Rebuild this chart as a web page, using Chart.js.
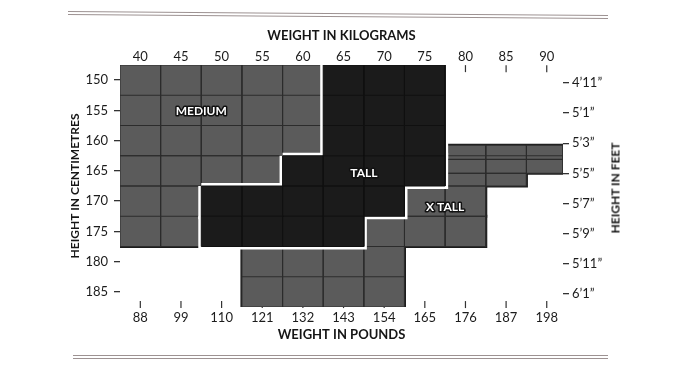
<!DOCTYPE html>
<html lang="en">
<head>
  <meta charset="UTF-8" />
  <title>Size chart</title>
  <script src="https://cdn.jsdelivr.net/npm/chart.js"></script>
  <style>
    body { margin: 0; background: #fff; }
    #wrap { position: relative; width: 699px; height: 368px; }
    canvas { position: absolute; left: 0; top: 0; }
    .rule {
      position: absolute; height: 2px;
      border-top: 1px solid #9d9292; border-bottom: 1px solid #9d9292;
    }
    #feetTitle {
      position: absolute; left: 615px; top: 188px;
      transform: translate(-50%, -50%) rotate(-90deg);
      font: bold 12px Lato; color: #151515; white-space: nowrap;
    }
  </style>
</head>
<body>
  <div id="wrap">
    <div class="rule" style="left:68px; top:13px; width:540px; transform:rotate(0.4deg)"></div>
    <canvas id="chart" width="699" height="368"></canvas>
    <div id="feetTitle">HEIGHT IN FEET</div>
    <div class="rule" style="left:73px; top:355px; width:535px"></div>
  </div>

  <script>
    // axis ticks
    const kgTicks = [40, 45, 50, 55, 60, 65, 70, 75, 80, 85, 90];
    const lbTicks = [88, 99, 110, 121, 132, 143, 154, 165, 176, 187, 198];
    const cmTicks = [150, 155, 160, 165, 170, 175, 180, 185];
    const feetTicks = [59, 61, 63, 65, 67, 69, 71, 73]; // inches, 4'11" .. 6'1"

    // size areas as blocks: [top cm, bottom cm, left kg, right kg]
    const mediumBlocks = [
      [147.5, 162.5, 37.5, 62.5],
      [162.5, 167.5, 37.5, 57.5],
      [167.5, 177.5, 37.5, 47.5]
    ];
    const tallBlocks = [
      [147.5, 162.5, 62.5, 77.5],
      [162.5, 167.5, 57.5, 77.5],
      [167.5, 172.5, 47.5, 72.5],
      [172.5, 177.5, 47.5, 67.5]
    ];
    const xTallBlocks = [
      [160.75, 163.1, 77.5, 92],
      [163.1, 165.4, 77.5, 92],
      [165.4, 167.5, 77.5, 87.5],
      [167.5, 172.5, 72.5, 82.5],
      [172.5, 177.5, 67.5, 82.5],
      [177.5, 187.5, 52.5, 72.5]
    ];

    const sizeNames = ['MEDIUM', 'TALL', 'X TALL'];
    const nameKg = [47.5, 67.5, 77.5];
    const nameCm = [155.2, 165.3, 171];

    const GREY = '#5b5b5b';
    const BLACK = '#1b1b1b';

    function rect([t, b, l, r]) {
      return [{x: l, y: t}, {x: r, y: t}, {x: r, y: b}, {x: l, y: b}, {x: l, y: t}];
    }

    // cell lines inside a set of blocks
    function gridLines(blocks) {
      const gap = {x: null, y: null};
      const pts = [];
      blocks.forEach(([t, b, l, r]) => {
        pts.push(...rect([t, b, l, r]), gap);
        for (let v = 42.5; v < r - 0.1; v += 5) {
          if (v > l + 0.1) pts.push({x: v, y: t}, {x: v, y: b}, gap);
        }
        for (let h = 152.5; h < b - 0.1; h += 5) {
          if (h > t + 0.1) pts.push({x: l, y: h}, {x: r, y: h}, gap);
        }
      });
      return pts;
    }

    function blockSets(blocks, fillColor, lineColor, lineWidth, order) {
      return blocks.map(b => ({
        data: rect(b),
        showLine: true,
        fill: 'shape',
        backgroundColor: fillColor,
        borderColor: lineColor,
        borderWidth: lineWidth,
        borderJoinStyle: 'miter',
        pointRadius: 0,
        order: order,
        xAxisID: 'xKg',
        yAxisID: 'yCm'
      }));
    }

    function lineSet(points, color, order) {
      return {
        data: points, showLine: true, fill: false, spanGaps: false,
        borderColor: color, borderWidth: 1, pointRadius: 0,
        order: order, xAxisID: 'xKg', yAxisID: 'yCm'
      };
    }

    const greyBlocks = mediumBlocks.concat(xTallBlocks);
    const clear = 'rgba(0,0,0,0)';

    const datasets = [
      // small tick marks under the axes labels
      {
        data: kgTicks.map(k => ({x: k, y: 148.1})),
        pointStyle: 'line', rotation: 90, pointRadius: 3.5,
        borderColor: '#333', borderWidth: 1.2, clip: false,
        order: 90, xAxisID: 'xKg', yAxisID: 'yCm'
      },
      {
        data: lbTicks.map(v => ({x: v, y: 187.1})),
        pointStyle: 'line', rotation: 90, pointRadius: 3.5,
        borderColor: '#333', borderWidth: 1.2, clip: false,
        order: 90, xAxisID: 'xLb', yAxisID: 'yCm'
      },
      ...blockSets(greyBlocks, GREY, '#1c1c1c', 3, 60),
      ...blockSets(greyBlocks, GREY, clear, 1, 50),
      lineSet(gridLines(greyBlocks), '#2c2c2c', 45),
      ...blockSets(tallBlocks, BLACK, '#ffffff', 6, 40),
      ...blockSets(tallBlocks, BLACK, clear, 1, 30),
      lineSet(gridLines(tallBlocks), '#101010', 25)
    ];

    const sizeNamePlugin = {
      id: 'sizeNames',
      afterDatasetsDraw(chart) {
        const {ctx} = chart;
        const x = chart.scales.xKg, y = chart.scales.yCm;
        ctx.save();
        ctx.font = 'bold 12px Lato';
        ctx.textAlign = 'center';
        ctx.textBaseline = 'middle';
        ctx.lineJoin = 'round';
        ctx.lineWidth = 3;
        ctx.strokeStyle = '#111';
        ctx.fillStyle = '#fff';
        sizeNames.forEach((t, i) => {
          const px = x.getPixelForValue(nameKg[i]);
          const py = y.getPixelForValue(nameCm[i]);
          ctx.strokeText(t, px, py);
          ctx.fillText(t, px, py);
        });
        ctx.restore();
      }
    };

    const tickFont = {family: 'Lato', size: 13};
    const titleFont = {family: 'Lato', size: 13, weight: 'bold'};

    function fixTicks(values) {
      return scale => { scale.ticks = values.map(v => ({value: v})); };
    }

    function feet(v) {
      return Math.floor(v / 12) + '\u2019' + (v % 12) + '\u201D';
    }

    new Chart(document.getElementById('chart'), {
      type: 'scatter',
      data: {datasets},
      plugins: [sizeNamePlugin],
      options: {
        responsive: false,
        animation: false,
        events: [],
        layout: {padding: {left: 66, top: 22, right: 90, bottom: 23}},
        plugins: {legend: {display: false}, tooltip: {enabled: false}},
        scales: {
          xKg: {
            type: 'linear', position: 'top', min: 37.5, max: 92,
            afterBuildTicks: fixTicks(kgTicks),
            afterFit: s => { s.height = 43; },
            grid: {display: false, drawTicks: false}, border: {display: false},
            ticks: {padding: 0, color: '#1c1c1c', font: tickFont, autoSkip: false, maxRotation: 0},
            title: {display: true, text: 'WEIGHT IN KILOGRAMS', color: '#151515', font: titleFont, padding: {top: 6, bottom: 0}}
          },
          xLb: {
            type: 'linear', position: 'bottom', min: 37.5 * 2.2, max: 92 * 2.2,
            afterBuildTicks: fixTicks(lbTicks),
            afterFit: s => { s.height = 38; },
            grid: {display: false, drawTicks: false}, border: {display: false},
            ticks: {padding: 3, color: '#1c1c1c', font: tickFont, autoSkip: false, maxRotation: 0},
            title: {display: true, text: 'WEIGHT IN POUNDS', color: '#151515', font: titleFont, padding: {top: 0, bottom: 2}}
          },
          yCm: {
            type: 'linear', position: 'left', reverse: true, min: 147.5, max: 187.5,
            afterBuildTicks: fixTicks(cmTicks),
            afterFit: s => { s.width = 54; },
            grid: {drawOnChartArea: false, drawTicks: true, tickLength: 6, color: '#333', lineWidth: 1.3},
            border: {display: false},
            ticks: {padding: 6, color: '#1c1c1c', font: tickFont, autoSkip: false},
            title: {display: true, text: 'HEIGHT IN CENTIMETRES', color: '#151515', font: {family: 'Lato', size: 12, weight: 'bold'}, padding: {top: 2, bottom: 0}}
          },
          yFt: {
            type: 'linear', position: 'right', reverse: true, min: 57.81, max: 73.86,
            afterBuildTicks: fixTicks(feetTicks),
            afterFit: s => { s.width = 46; },
            grid: {drawOnChartArea: false, drawTicks: true, tickLength: 6, color: '#333', lineWidth: 1.3},
            border: {display: false},
            ticks: {padding: 3, color: '#1c1c1c', font: tickFont, autoSkip: false, callback: v => feet(v)}
          }
        }
      }
    });
  </script>
</body>
</html>
